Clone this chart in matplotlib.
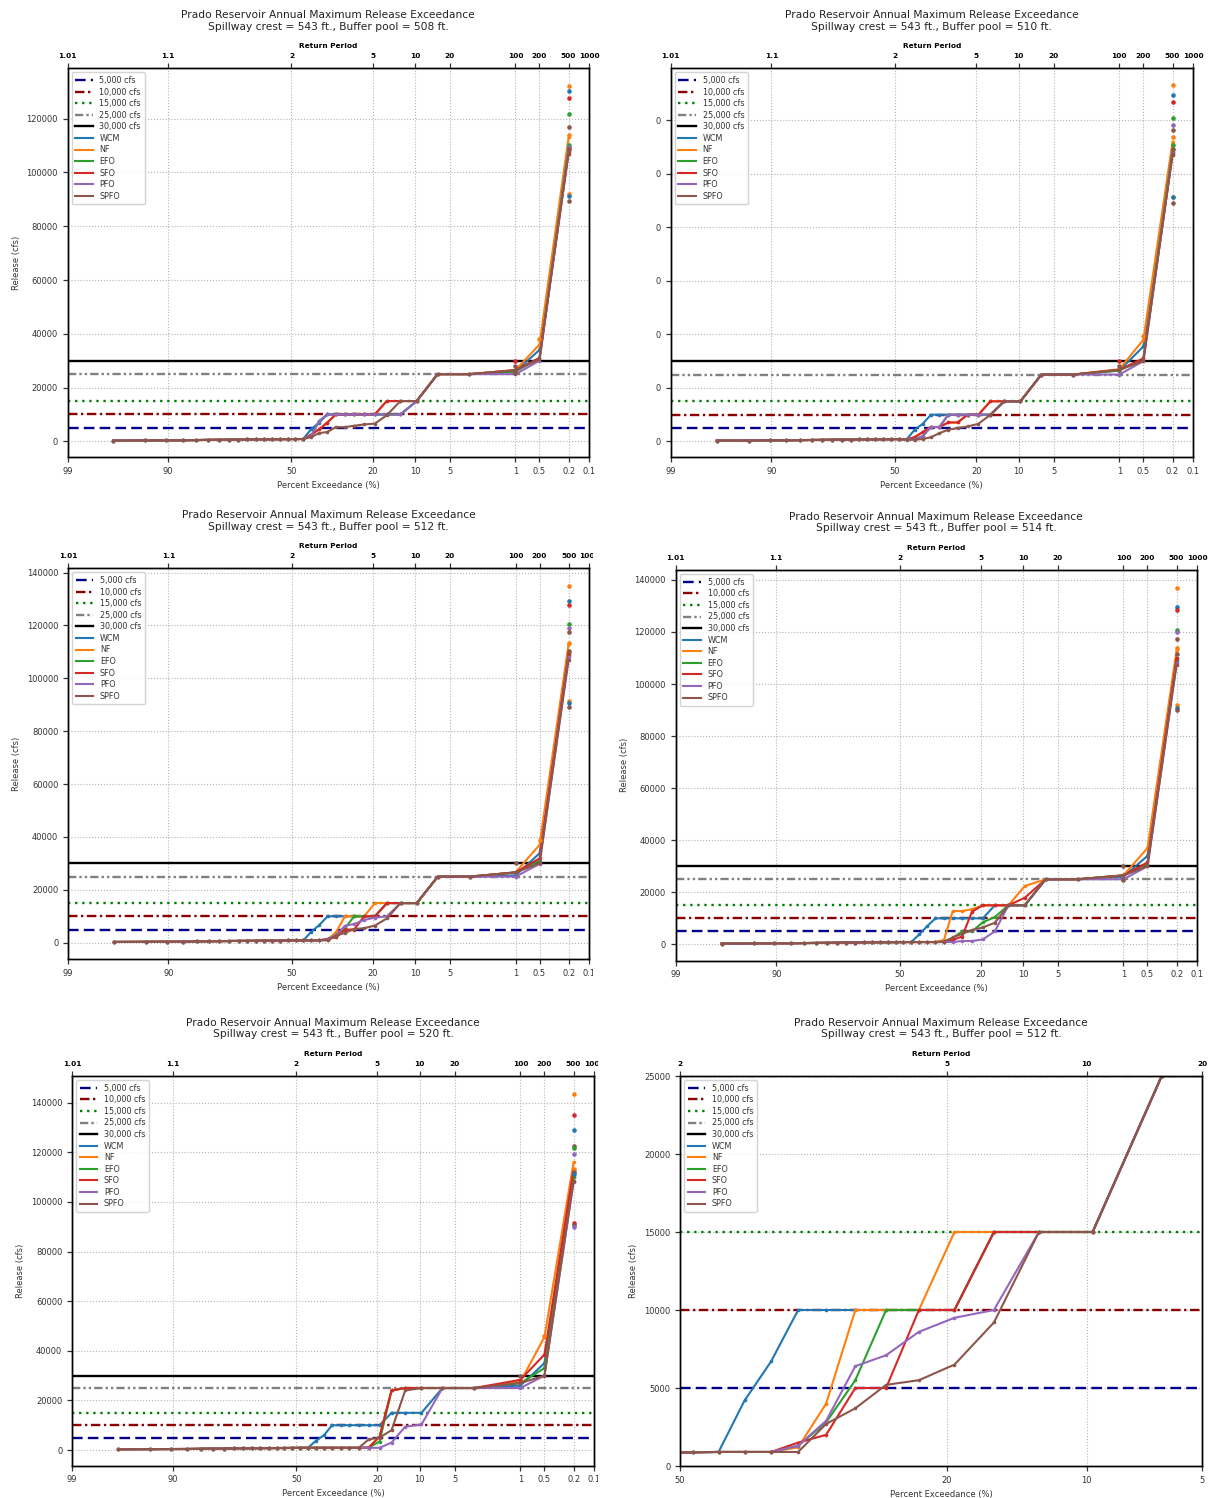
import numpy as np
import matplotlib.pyplot as plt
from matplotlib.transforms import Bbox, TransformedBbox
from statistics import NormalDist

# ranked annual maxima (30 years, Weibull plotting position) + design events
N_YEARS = 30
rank_pct = [100.0 * m / (N_YEARS + 1) for m in range(N_YEARS, 0, -1)]
freq_pct = [1.0, 0.5, 0.2]
x_pct = rank_pct + freq_pct

series_names = ['WCM', 'NF', 'EFO', 'SFO', 'PFO', 'SPFO']
threshold_cfs = [5000, 10000, 15000, 25000, 30000]

exc_ticks = [99, 90, 50, 20, 10, 5, 1, 0.5, 0.2, 0.1]
exc_labels = ['99', '90', '50', '20', '10', '5', '1', '0.5', '0.2', '0.1']
rp_labels = ['1.01', '1.1', '2', '5', '10', '20', '100', '200', '500', '1000']
zoom_ticks = [50, 20, 10, 5]
zoom_rp_labels = ['2', '5', '10', '20']

# ranks 30..15 are the same base release in every run
low_tail = [300, 350, 400, 420, 500, 560, 600, 650, 700, 720, 750, 780, 800, 820, 850, 880]

# ranks 14..1, then 1 %, 0.5 %, 0.2 % events
wcm_508 = [880, 4500, 7000, 10000, 10000, 10000, 10000, 10000, 10000, 10000, 10000, 15000, 25000, 25000, 26000, 34000, 108500]
nf_508 = [880, 2500, 4500, 7000, 10000, 10000, 10000, 10000, 10000, 15000, 15000, 15000, 25000, 25000, 26500, 36000, 113000]
efo_508 = [880, 2000, 7500, 10000, 10000, 10000, 10000, 10000, 10000, 10000, 10000, 15000, 25000, 25000, 26000, 31000, 109500]
sfo_508 = [880, 2500, 4500, 7000, 10000, 10000, 10000, 10000, 10000, 15000, 15000, 15000, 25000, 25000, 26500, 31000, 107000]
pfo_508 = [880, 2000, 7500, 10000, 10000, 10000, 10000, 10000, 10000, 10000, 10000, 15000, 25000, 25000, 25000, 30000, 108500]
spfo_508 = [880, 1600, 3100, 3500, 5300, 5300, 5800, 6300, 6600, 9700, 15000, 15000, 25000, 25000, 26500, 30500, 107500]
extra_508 = [('NF', 0.2, 132300), ('WCM', 0.2, 130300), ('SFO', 0.2, 127500), ('EFO', 0.2, 121600),
             ('SPFO', 0.2, 116800), ('NF', 0.2, 114000), ('EFO', 0.2, 110200), ('PFO', 0.2, 109600),
             ('SPFO', 0.2, 108600), ('NF', 0.2, 91900), ('WCM', 0.2, 91300), ('SPFO', 0.2, 89200),
             ('SFO', 1, 30000), ('SPFO', 1, 27900), ('SPFO', 1, 25400), ('NF', 0.5, 38000)]

wcm_510 = [800, 4400, 6600, 10000, 10000, 10000, 10000, 10000, 10000, 10000, 15000, 15000, 25000, 25000, 26500, 35500, 108000]
nf_510 = [800, 1600, 3500, 5400, 5400, 7100, 7100, 10000, 10000, 15000, 15000, 15000, 25000, 25000, 27000, 38000, 112000]
efo_510 = [800, 800, 2000, 5400, 5400, 10000, 10000, 10000, 10000, 10000, 15000, 15000, 25000, 25000, 26500, 31000, 109000]
sfo_510 = [800, 1600, 3500, 5400, 5400, 7100, 7100, 10000, 10000, 15000, 15000, 15000, 25000, 25000, 26800, 31000, 107000]
pfo_510 = [800, 800, 2000, 5400, 5400, 10000, 10000, 10000, 10000, 10000, 15000, 15000, 25000, 25000, 25000, 30000, 108000]
spfo_510 = [700, 700, 900, 1600, 3100, 4400, 5000, 5600, 6600, 10000, 15000, 15000, 25000, 25000, 26800, 30000, 107500]
extra_510 = [('NF', 0.2, 133000), ('WCM', 0.2, 129500), ('SFO', 0.2, 126900), ('EFO', 0.2, 120800),
             ('PFO', 0.2, 118200), ('SPFO', 0.2, 116200), ('NF', 0.2, 113700), ('EFO', 0.2, 110800),
             ('SPFO', 0.2, 109300), ('NF', 0.2, 91500), ('WCM', 0.2, 91200), ('SPFO', 0.2, 89000),
             ('SFO', 1, 30100), ('SPFO', 1, 28300), ('NF', 0.5, 39500)]

wcm_512 = [900, 4200, 6700, 10000, 10000, 10000, 10000, 10000, 10000, 15000, 15000, 15000, 25000, 25000, 25500, 33800, 109000]
nf_512 = [900, 900, 900, 1200, 4000, 10000, 10000, 10000, 15000, 15000, 15000, 15000, 25000, 25000, 26600, 37000, 113000]
efo_512 = [900, 900, 900, 1300, 2800, 5500, 10000, 10000, 10000, 15000, 15000, 15000, 25000, 25000, 26600, 31000, 109500]
sfo_512 = [900, 900, 900, 1500, 2000, 5000, 5000, 10000, 10000, 15000, 15000, 15000, 25000, 25000, 26600, 31900, 109500]
pfo_512 = [900, 900, 900, 1300, 2900, 6400, 7100, 8600, 9500, 10000, 15000, 15000, 25000, 25000, 25000, 29800, 108000]
spfo_512 = [900, 900, 900, 900, 2700, 3700, 5200, 5500, 6500, 9200, 15000, 15000, 25000, 25000, 26600, 30000, 107000]
extra_512 = [('NF', 0.2, 135000), ('WCM', 0.2, 129400), ('SFO', 0.2, 127600), ('EFO', 0.2, 120600),
             ('PFO', 0.2, 118900), ('SPFO', 0.2, 117500), ('NF', 0.2, 113500), ('SPFO', 0.2, 110500),
             ('NF', 0.2, 91500), ('WCM', 0.2, 90500), ('SPFO', 0.2, 89300), ('SPFO', 1, 30000),
             ('NF', 0.5, 38800)]

wcm_514 = [900, 3800, 7000, 10000, 10000, 10000, 10000, 10000, 10000, 15000, 15000, 15000, 25000, 25000, 26000, 34000, 109000]
nf_514 = [900, 900, 900, 900, 1700, 12800, 12800, 13500, 15000, 15000, 15000, 22400, 25000, 25000, 26500, 37000, 113000]
efo_514 = [900, 900, 900, 900, 1000, 2500, 5000, 5000, 8500, 10500, 15000, 15000, 25000, 25000, 26500, 31000, 109500]
sfo_514 = [900, 900, 900, 900, 1000, 1700, 3000, 12600, 15000, 15000, 15000, 17900, 25000, 25000, 26500, 31500, 110000]
pfo_514 = [900, 900, 900, 900, 900, 900, 1300, 1300, 1900, 5000, 15000, 15000, 25000, 25000, 25000, 30000, 108000]
spfo_514 = [900, 900, 900, 900, 900, 2700, 4000, 5500, 6500, 8300, 15000, 15000, 25000, 25000, 26500, 30000, 107500]
extra_514 = [('NF', 0.2, 137000), ('WCM', 0.2, 129700), ('SFO', 0.2, 128500), ('EFO', 0.2, 120900),
             ('PFO', 0.2, 120000), ('SPFO', 0.2, 117300), ('NF', 0.2, 113800), ('SPFO', 0.2, 111700),
             ('NF', 0.2, 91800), ('WCM', 0.2, 90800), ('SPFO', 0.2, 90000), ('SPFO', 1, 30100),
             ('SPFO', 1, 24800)]

wcm_520 = [900, 3700, 5900, 10000, 10000, 10000, 10000, 10000, 10000, 15000, 15000, 15000, 25000, 25000, 26000, 35000, 110000]
nf_520 = [900, 900, 900, 900, 900, 900, 900, 1000, 5400, 24000, 25000, 25000, 25000, 25000, 27500, 45500, 116000]
efo_520 = [900, 900, 900, 900, 900, 900, 900, 1000, 3400, 24000, 25000, 25000, 25000, 25000, 27000, 33000, 110000]
sfo_520 = [900, 900, 900, 900, 900, 900, 900, 1000, 5400, 24000, 25000, 25000, 25000, 25000, 28300, 38500, 113000]
pfo_520 = [900, 900, 900, 900, 900, 900, 900, 900, 900, 3000, 9400, 10300, 25000, 25000, 25000, 30000, 108000]
spfo_520 = [900, 900, 900, 900, 900, 900, 900, 4300, 5000, 8000, 24000, 25000, 25000, 25000, 27000, 30000, 108500]
extra_520 = [('NF', 0.2, 143400), ('SFO', 0.2, 135000), ('WCM', 0.2, 129100), ('SPFO', 0.2, 122700),
             ('EFO', 0.2, 121900), ('PFO', 0.2, 119300), ('NF', 0.2, 113400), ('SPFO', 0.2, 112100),
             ('WCM', 0.2, 111400), ('SFO', 0.2, 91500), ('SPFO', 0.2, 90900), ('PFO', 0.2, 89900),
             ('SPFO', 1, 30000), ('NF', 0.5, 46000)]

W, H = 1210, 1498
TXT = '#333333'
colors = dict(zip(series_names, ['#1f77b4', '#ff7f0e', '#2ca02c', '#d62728', '#9467bd', '#8c564b']))
thr_style = [('#00008b', (0, (4.5, 2.2))), ('#8b0000', (0, (4, 1.5, 1, 1.5))), ('#008000', (0, (1, 2))),
             ('#808080', (0, (3.5, 1.3, 1, 1.3, 1, 1.3))), ('black', '-')]

plt.rcParams.update({'font.family': 'DejaVu Sans', 'font.size': 6, 'text.color': TXT,
                     'axes.labelcolor': TXT, 'xtick.color': TXT, 'ytick.color': TXT,
                     'xtick.labelcolor': TXT, 'ytick.labelcolor': TXT, 'axes.linewidth': 1.0})

_nd = NormalDist()
_ppf = np.vectorize(lambda p: _nd.inv_cdf(p / 100.0), otypes=[float])
_cdf = np.vectorize(lambda z: 100.0 * _nd.cdf(z), otypes=[float])


# probability axis: increasing in percent exceedance, drawn with xlim (99, 0.1)
def to_z(p):
    return _ppf(np.clip(np.asarray(p, dtype=float), 1e-9, 100 - 1e-9))


def from_z(z):
    return _cdf(np.asarray(z, dtype=float))


fig = plt.figure(figsize=(W / 100, H / 100), dpi=100)


def px_rect(l, r, t, b):
    return [l / W, 1 - b / H, (r - l) / W, (b - t) / H]


def draw_panel(box, pool, curves, extras, ylim, yticks, zoom=False, zero_labels=False, clip_x=None):
    l, r, t, b = box
    ax = fig.add_axes(px_rect(l, r, t, b))
    ax.set_xscale('function', functions=(to_z, from_z))

    for v, (c, ls) in zip(threshold_cfs, thr_style):
        ax.axhline(v, color=c, ls=ls, lw=1.7, label=f'{v:,} cfs')
    for name, vals in zip(series_names, curves):
        y = low_tail + vals
        ax.plot(x_pct, y, color=colors[name], lw=1.5, label=name)
        ax.plot(x_pct, y, 'o', color=colors[name], ms=2.6, mew=0)
    for name, p, v in extras:
        ax.plot(p, v, 'o', color=colors[name], ms=3.3, mew=0)

    ticks = zoom_ticks if zoom else exc_ticks
    ax.set_xlim(ticks[0], ticks[-1])
    ax.set_xticks(ticks)
    ax.set_xticklabels([str(t_) for t_ in ticks] if zoom else exc_labels)
    ax.set_ylim(*ylim)
    ax.set_yticks(yticks)
    if zero_labels:
        ax.set_yticklabels(['0'] * len(yticks))
    else:
        ax.set_ylabel('Release (cfs)', fontsize=6, labelpad=4)
    ax.set_xlabel('Percent Exceedance (%)', fontsize=6, labelpad=3.5)
    ax.tick_params(axis='both', labelsize=6, length=3.5, width=0.9, pad=3.5)
    ax.grid(True, ls=':', color='#b5b5b5', lw=0.8)
    ax.set_axisbelow(True)

    ax2 = ax.twiny()
    ax2.set_xscale('function', functions=(to_z, from_z))
    ax2.set_xlim(ax.get_xlim())
    ax2.set_xticks(ticks)
    ax2.set_xticklabels(zoom_rp_labels if zoom else rp_labels, fontweight='bold', color='black')
    ax2.tick_params(axis='x', labelsize=5.3, length=3.5, width=0.9, pad=3.2)
    ax2.set_xlabel('Return Period', fontsize=5.3, fontweight='bold', color='black', labelpad=3.5)

    ax.legend(loc='upper left', fontsize=5.8, handlelength=2.2, labelspacing=0.32,
              borderpad=0.45, handletextpad=0.8, framealpha=0.85, edgecolor='#cccccc')

    hpx = b - t
    ax.text(0.5, 1 + 53.3 / hpx, 'Prado Reservoir Annual Maximum Release Exceedance',
            transform=ax.transAxes, ha='center', va='center', fontsize=7.7, color='#222222')
    ax.text(0.5, 1 + 41.7 / hpx, f'Spillway crest = 543 ft., Buffer pool = {pool} ft.',
            transform=ax.transAxes, ha='center', va='center', fontsize=7.7, color='#222222')

    if clip_x is not None:
        cb = TransformedBbox(Bbox.from_extents(0, 0, clip_x / W, 1), fig.transFigure)
        for a in (ax, ax2):
            for tk in a.xaxis.get_major_ticks():
                for lab in (tk.label1, tk.label2):
                    lab.set_clip_box(cb)
                    lab.set_clip_on(True)
    return ax


y120 = list(range(0, 120001, 20000))
y140 = list(range(0, 140001, 20000))
draw_panel((67.5, 589, 68.3, 457), 508,
           [wcm_508, nf_508, efo_508, sfo_508, pfo_508, spfo_508], extra_508, (-5800, 138700), y120)
draw_panel((670.7, 1193, 68.3, 457), 510,
           [wcm_510, nf_510, efo_510, sfo_510, pfo_510, spfo_510], extra_510, (-5800, 139400), y120,
           zero_labels=True)
draw_panel((68, 589, 568.3, 959), 512,
           [wcm_512, nf_512, efo_512, sfo_512, pfo_512, spfo_512], extra_512, (-6150, 141600), y140,
           clip_x=593)
draw_panel((675.7, 1197, 570, 960.7), 514,
           [wcm_514, nf_514, efo_514, sfo_514, pfo_514, spfo_514], extra_514, (-6270, 143800), y140)
draw_panel((72, 594, 1076, 1465.7), 520,
           [wcm_520, nf_520, efo_520, sfo_520, pfo_520, spfo_520], extra_520, (-6320, 150800), y140,
           clip_x=598)
draw_panel((680, 1202, 1076, 1466), 512,
           [wcm_512, nf_512, efo_512, sfo_512, pfo_512, spfo_512], extra_512, (0, 25000),
           list(range(0, 25001, 5000)), zoom=True)

fig.savefig('out.png', dpi=100, facecolor='white')
